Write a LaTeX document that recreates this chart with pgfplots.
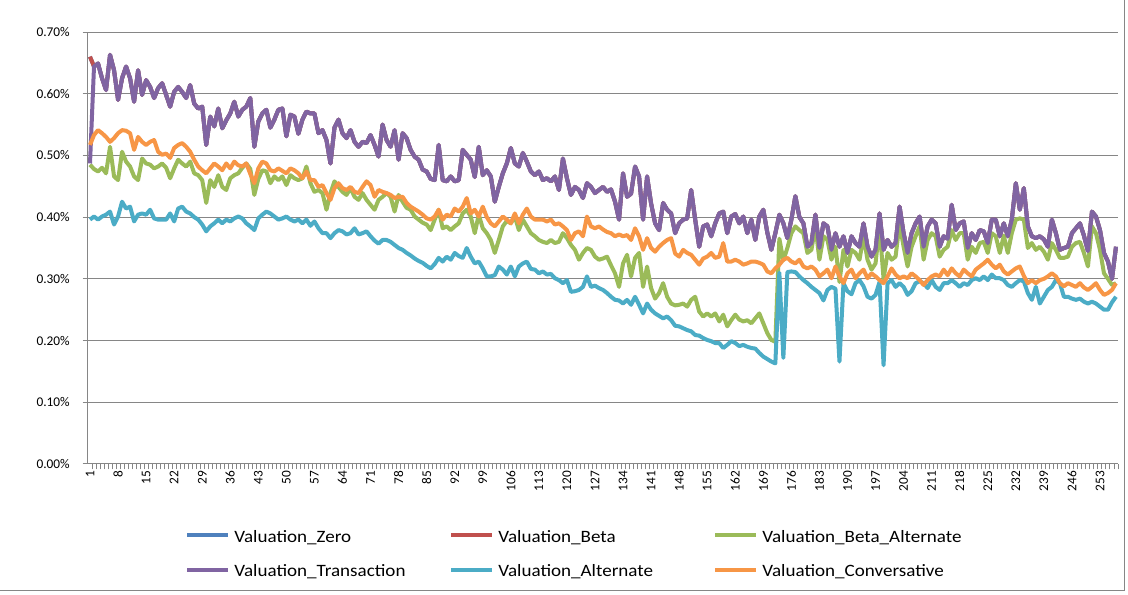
\documentclass[border=0pt]{standalone}
\usepackage{fontspec}
\setmainfont{Carlito}
\newfontfamily\legfont{Carlito}[FakeStretch=1.1]
\usepackage{pgfplots}
\usepackage{pgfplotstable}
\pgfplotsset{compat=1.18}
\definecolor{cZero}{HTML}{4F81BD}
\definecolor{cBeta}{HTML}{C0504D}
\definecolor{cBAlt}{HTML}{9BBB59}
\definecolor{cTrans}{HTML}{8064A2}
\definecolor{cAlt}{HTML}{4BACC6}
\definecolor{cCons}{HTML}{F79646}
\definecolor{axgray}{HTML}{868686}

\pgfplotstableread{
i beta balt trans alt cons
1 0.660 0.485 0.487 0.396 0.517
2 0.644 0.478 0.644 0.401 0.533
3 0.649 0.474 0.649 0.396 0.541
4 0.625 0.480 0.625 0.401 0.536
5 0.606 0.471 0.606 0.404 0.530
6 0.663 0.514 0.663 0.409 0.522
7 0.638 0.466 0.638 0.388 0.528
8 0.590 0.460 0.590 0.401 0.536
9 0.625 0.506 0.625 0.425 0.541
10 0.644 0.490 0.644 0.414 0.540
11 0.625 0.482 0.625 0.417 0.536
12 0.587 0.466 0.587 0.393 0.509
13 0.638 0.460 0.638 0.404 0.530
14 0.598 0.495 0.598 0.406 0.522
15 0.622 0.487 0.622 0.404 0.517
16 0.611 0.485 0.611 0.412 0.522
17 0.593 0.479 0.593 0.398 0.525
18 0.609 0.482 0.609 0.396 0.506
19 0.617 0.487 0.617 0.396 0.501
20 0.598 0.480 0.598 0.396 0.503
21 0.579 0.463 0.579 0.406 0.496
22 0.603 0.479 0.603 0.393 0.512
23 0.611 0.493 0.611 0.414 0.517
24 0.603 0.487 0.603 0.417 0.520
25 0.593 0.482 0.593 0.409 0.514
26 0.614 0.490 0.614 0.406 0.506
27 0.584 0.471 0.584 0.400 0.493
28 0.576 0.468 0.576 0.396 0.482
29 0.579 0.460 0.579 0.388 0.476
30 0.517 0.423 0.517 0.377 0.471
31 0.563 0.460 0.563 0.385 0.479
32 0.547 0.449 0.547 0.390 0.487
33 0.576 0.468 0.576 0.396 0.482
34 0.544 0.449 0.544 0.390 0.476
35 0.557 0.444 0.557 0.396 0.487
36 0.568 0.463 0.568 0.393 0.479
37 0.587 0.468 0.587 0.398 0.490
38 0.563 0.471 0.563 0.401 0.484
39 0.574 0.480 0.574 0.398 0.482
40 0.579 0.487 0.579 0.390 0.487
41 0.593 0.478 0.593 0.385 0.470
42 0.514 0.436 0.514 0.379 0.455
43 0.555 0.462 0.555 0.398 0.479
44 0.568 0.476 0.568 0.404 0.490
45 0.574 0.474 0.574 0.409 0.487
46 0.545 0.455 0.545 0.406 0.476
47 0.558 0.466 0.558 0.401 0.474
48 0.574 0.460 0.574 0.396 0.479
49 0.576 0.466 0.576 0.398 0.475
50 0.531 0.452 0.531 0.401 0.471
51 0.566 0.468 0.566 0.396 0.479
52 0.563 0.463 0.563 0.393 0.476
53 0.535 0.460 0.535 0.396 0.471
54 0.558 0.463 0.558 0.390 0.463
55 0.571 0.482 0.571 0.396 0.474
56 0.568 0.455 0.568 0.386 0.460
57 0.568 0.441 0.568 0.393 0.460
58 0.536 0.444 0.536 0.382 0.449
59 0.541 0.439 0.541 0.374 0.452
60 0.525 0.412 0.525 0.374 0.439
61 0.487 0.439 0.487 0.366 0.428
62 0.545 0.458 0.545 0.374 0.447
63 0.558 0.449 0.558 0.379 0.455
64 0.536 0.441 0.536 0.377 0.447
65 0.528 0.436 0.528 0.372 0.444
66 0.541 0.447 0.541 0.374 0.449
67 0.522 0.433 0.522 0.382 0.441
68 0.514 0.428 0.514 0.372 0.439
69 0.522 0.439 0.522 0.374 0.449
70 0.520 0.428 0.520 0.377 0.458
71 0.533 0.420 0.533 0.369 0.452
72 0.517 0.412 0.517 0.362 0.433
73 0.498 0.428 0.498 0.357 0.444
74 0.550 0.433 0.550 0.363 0.441
75 0.525 0.439 0.525 0.363 0.439
76 0.514 0.433 0.514 0.360 0.436
77 0.541 0.409 0.541 0.355 0.431
78 0.493 0.436 0.493 0.350 0.433
79 0.536 0.425 0.536 0.347 0.433
80 0.528 0.415 0.528 0.342 0.423
81 0.509 0.412 0.509 0.338 0.417
82 0.498 0.401 0.498 0.333 0.413
83 0.493 0.396 0.493 0.329 0.409
84 0.477 0.391 0.477 0.326 0.404
85 0.474 0.388 0.474 0.321 0.398
86 0.462 0.379 0.462 0.317 0.396
87 0.460 0.396 0.460 0.324 0.401
88 0.517 0.412 0.517 0.334 0.412
89 0.460 0.382 0.460 0.328 0.396
90 0.458 0.385 0.458 0.336 0.404
91 0.466 0.379 0.466 0.331 0.401
92 0.458 0.385 0.458 0.342 0.414
93 0.460 0.390 0.460 0.337 0.409
94 0.509 0.406 0.509 0.334 0.417
95 0.501 0.412 0.501 0.350 0.431
96 0.493 0.401 0.493 0.336 0.406
97 0.465 0.374 0.465 0.325 0.412
98 0.514 0.404 0.514 0.328 0.401
99 0.468 0.382 0.468 0.317 0.417
100 0.476 0.374 0.476 0.304 0.400
101 0.466 0.363 0.466 0.304 0.390
102 0.425 0.342 0.425 0.306 0.385
103 0.449 0.363 0.449 0.320 0.393
104 0.471 0.385 0.471 0.315 0.401
105 0.487 0.394 0.487 0.307 0.396
106 0.512 0.390 0.512 0.320 0.390
107 0.487 0.401 0.487 0.304 0.406
108 0.482 0.379 0.482 0.320 0.390
109 0.504 0.396 0.504 0.325 0.404
110 0.490 0.385 0.490 0.328 0.414
111 0.474 0.374 0.474 0.316 0.401
112 0.468 0.369 0.468 0.315 0.396
113 0.474 0.363 0.474 0.309 0.396
114 0.460 0.360 0.460 0.312 0.396
115 0.463 0.358 0.463 0.307 0.393
116 0.458 0.363 0.458 0.308 0.396
117 0.466 0.358 0.466 0.301 0.388
118 0.444 0.360 0.444 0.298 0.390
119 0.495 0.374 0.495 0.293 0.385
120 0.463 0.366 0.463 0.298 0.379
121 0.436 0.355 0.436 0.279 0.363
122 0.449 0.347 0.449 0.280 0.374
123 0.444 0.331 0.444 0.282 0.377
124 0.431 0.342 0.431 0.287 0.369
125 0.455 0.350 0.455 0.304 0.401
126 0.449 0.347 0.449 0.287 0.385
127 0.439 0.336 0.439 0.289 0.382
128 0.444 0.331 0.444 0.285 0.385
129 0.449 0.333 0.449 0.282 0.380
130 0.441 0.336 0.441 0.277 0.376
131 0.445 0.322 0.445 0.271 0.374
132 0.425 0.309 0.425 0.266 0.369
133 0.396 0.287 0.396 0.265 0.372
134 0.471 0.325 0.471 0.260 0.369
135 0.433 0.339 0.433 0.266 0.371
136 0.438 0.304 0.438 0.258 0.363
137 0.482 0.334 0.482 0.271 0.382
138 0.466 0.342 0.466 0.258 0.369
139 0.396 0.287 0.396 0.244 0.347
140 0.466 0.320 0.466 0.260 0.366
141 0.422 0.285 0.422 0.250 0.350
142 0.390 0.268 0.390 0.244 0.344
143 0.379 0.277 0.379 0.240 0.352
144 0.423 0.293 0.423 0.236 0.358
145 0.412 0.271 0.412 0.239 0.363
146 0.406 0.260 0.406 0.233 0.366
147 0.374 0.257 0.374 0.224 0.341
148 0.390 0.258 0.390 0.223 0.336
149 0.396 0.260 0.396 0.220 0.347
150 0.398 0.255 0.398 0.217 0.342
151 0.444 0.266 0.444 0.215 0.339
152 0.396 0.271 0.396 0.209 0.331
153 0.352 0.247 0.352 0.208 0.323
154 0.385 0.239 0.385 0.204 0.333
155 0.388 0.244 0.388 0.201 0.336
156 0.369 0.239 0.369 0.199 0.342
157 0.390 0.244 0.390 0.196 0.334
158 0.406 0.231 0.406 0.196 0.336
159 0.409 0.242 0.409 0.188 0.358
160 0.374 0.223 0.374 0.193 0.328
161 0.401 0.233 0.401 0.199 0.328
162 0.405 0.242 0.405 0.196 0.331
163 0.390 0.234 0.390 0.191 0.328
164 0.401 0.231 0.401 0.193 0.323
165 0.374 0.233 0.374 0.190 0.325
166 0.396 0.228 0.396 0.188 0.328
167 0.363 0.236 0.363 0.187 0.328
168 0.401 0.244 0.401 0.180 0.326
169 0.412 0.228 0.412 0.174 0.323
170 0.375 0.212 0.375 0.170 0.312
171 0.347 0.201 0.347 0.166 0.309
172 0.374 0.198 0.374 0.163 0.317
173 0.404 0.365 0.404 0.310 0.323
174 0.390 0.330 0.390 0.172 0.331
175 0.366 0.350 0.366 0.311 0.334
176 0.396 0.374 0.396 0.312 0.328
177 0.434 0.385 0.434 0.311 0.325
178 0.400 0.379 0.400 0.304 0.331
179 0.390 0.374 0.390 0.298 0.320
180 0.352 0.342 0.352 0.293 0.317
181 0.358 0.347 0.358 0.287 0.320
182 0.404 0.385 0.404 0.282 0.315
183 0.350 0.331 0.350 0.277 0.304
184 0.390 0.369 0.390 0.265 0.309
185 0.385 0.363 0.385 0.282 0.315
186 0.347 0.331 0.347 0.287 0.301
187 0.374 0.352 0.374 0.284 0.320
188 0.352 0.295 0.352 0.166 0.304
189 0.369 0.347 0.369 0.293 0.293
190 0.342 0.320 0.342 0.280 0.309
191 0.369 0.347 0.369 0.275 0.315
192 0.358 0.342 0.358 0.293 0.301
193 0.352 0.331 0.352 0.298 0.309
194 0.390 0.369 0.390 0.288 0.315
195 0.352 0.331 0.352 0.271 0.301
196 0.336 0.315 0.336 0.268 0.309
197 0.347 0.325 0.347 0.274 0.304
198 0.406 0.385 0.406 0.295 0.298
199 0.347 0.300 0.347 0.160 0.293
200 0.363 0.342 0.363 0.293 0.304
201 0.352 0.331 0.352 0.298 0.317
202 0.358 0.336 0.358 0.287 0.307
203 0.417 0.390 0.417 0.293 0.301
204 0.374 0.352 0.374 0.287 0.304
205 0.342 0.320 0.342 0.274 0.301
206 0.374 0.352 0.374 0.280 0.309
207 0.390 0.369 0.390 0.293 0.304
208 0.401 0.385 0.401 0.296 0.298
209 0.352 0.331 0.352 0.293 0.290
210 0.385 0.363 0.385 0.285 0.298
211 0.396 0.374 0.396 0.298 0.304
212 0.390 0.369 0.390 0.287 0.307
213 0.352 0.336 0.352 0.282 0.304
214 0.369 0.347 0.369 0.293 0.315
215 0.365 0.352 0.365 0.293 0.306
216 0.420 0.379 0.420 0.298 0.317
217 0.379 0.363 0.379 0.293 0.309
218 0.390 0.374 0.390 0.287 0.304
219 0.393 0.374 0.393 0.293 0.315
220 0.350 0.331 0.350 0.290 0.309
221 0.374 0.352 0.374 0.298 0.304
222 0.363 0.342 0.363 0.301 0.315
223 0.379 0.358 0.379 0.298 0.320
224 0.377 0.360 0.377 0.304 0.325
225 0.358 0.342 0.358 0.298 0.331
226 0.396 0.374 0.396 0.307 0.323
227 0.396 0.369 0.396 0.301 0.317
228 0.369 0.342 0.369 0.301 0.323
229 0.390 0.370 0.390 0.298 0.312
230 0.369 0.342 0.369 0.290 0.307
231 0.396 0.374 0.396 0.287 0.312
232 0.455 0.396 0.455 0.293 0.317
233 0.412 0.398 0.412 0.298 0.320
234 0.447 0.396 0.447 0.296 0.305
235 0.385 0.350 0.385 0.277 0.293
236 0.369 0.358 0.369 0.266 0.298
237 0.366 0.347 0.366 0.287 0.293
238 0.369 0.352 0.369 0.260 0.298
239 0.364 0.344 0.364 0.271 0.300
240 0.352 0.331 0.352 0.282 0.304
241 0.396 0.358 0.396 0.287 0.309
242 0.374 0.347 0.374 0.298 0.304
243 0.347 0.334 0.347 0.293 0.293
244 0.350 0.334 0.350 0.271 0.288
245 0.352 0.336 0.352 0.271 0.293
246 0.374 0.352 0.374 0.268 0.290
247 0.382 0.358 0.382 0.266 0.287
248 0.390 0.360 0.390 0.268 0.293
249 0.370 0.342 0.370 0.263 0.286
250 0.345 0.320 0.345 0.260 0.282
251 0.409 0.385 0.409 0.263 0.287
252 0.401 0.374 0.401 0.260 0.293
253 0.379 0.347 0.379 0.255 0.282
254 0.342 0.309 0.342 0.250 0.274
255 0.328 0.300 0.328 0.250 0.277
256 0.300 0.290 0.300 0.262 0.282
257 0.352 0.293 0.352 0.271 0.293
}\data

\begin{document}
\begin{tikzpicture}
\path[use as bounding box] (-66pt,-98.25pt) rectangle (780pt,348pt);
\draw[axgray, line width=0.75pt] (777pt,348pt) -- (777pt,-95pt) -- (-66pt,-95pt);
\begin{axis}[
  scale only axis, width=772.5pt, height=324pt,
  at={(0pt,0pt)}, anchor=south west,
  xmin=0.5, xmax=257.5, ymin=0, ymax=0.7,
  axis x line*=bottom, axis y line*=left,
  axis line style={draw=axgray, line width=0.75pt},
  xtick={1,8,...,253},
  minor xtick={1.5,2.5,...,257.5},
  ytick={0,0.1,0.2,0.3,0.4,0.5,0.6,0.7},
  minor ytick={0,0.1,0.2,0.3,0.4,0.5,0.6,0.7},
  major tick length=0pt, minor tick length=4pt, tick align=outside,
  minor tick style={draw=axgray, line width=0.75pt},
  ymajorgrids, grid style={draw=axgray, line width=0.75pt},
  /pgf/number format/assume math mode=true,
  yticklabel={\pgfmathprintnumber[fixed,fixed zerofill,precision=2]{\tick}\%},
  yticklabel style={font=\fontsize{10}{12}\selectfont, inner sep=0pt, anchor=east, xshift=-13.5pt},
  xticklabel style={font=\fontsize{10}{12}\selectfont, rotate=90, anchor=east, inner sep=0pt},
  xticklabel shift=5pt,
  legend columns=3,
  legend style={at={(0.0942,-0.1435)}, anchor=north west, draw=none, fill=none,
    inner sep=0pt, row sep=12.5pt,
    font=\legfont\fontsize{13}{15}\selectfont,
    nodes={inner sep=0pt},
    /tikz/every odd column/.style={column sep=3pt}},
  legend cell align=left,
  legend image code/.code={\draw[#1, line width=3pt] (0pt,0pt) -- (30.75pt,0pt);},
  every axis plot/.append style={line width=3pt, line join=round},
]
\addplot[color=cZero] table[x=i, y=beta] {\data};
\addlegendentry{\makebox[161.25pt][l]{\rule[-4pt]{0pt}{16pt}Valuation\_Zero}}
\addplot[color=cBeta] table[x=i, y=beta] {\data};
\addlegendentry{\makebox[161.25pt][l]{\rule[-4pt]{0pt}{16pt}Valuation\_Beta}}
\addplot[color=cBAlt] table[x=i, y=balt] {\data};
\addlegendentry{\makebox[161.25pt][l]{\rule[-4pt]{0pt}{16pt}Valuation\_Beta\_Alternate}}
\addplot[color=cTrans] table[x=i, y=trans] {\data};
\addlegendentry{\makebox[161.25pt][l]{\rule[-4pt]{0pt}{16pt}Valuation\_Transaction}}
\addplot[color=cAlt] table[x=i, y=alt] {\data};
\addlegendentry{\makebox[161.25pt][l]{\rule[-4pt]{0pt}{16pt}Valuation\_Alternate}}
\addplot[color=cCons] table[x=i, y=cons] {\data};
\addlegendentry{\makebox[161.25pt][l]{\rule[-4pt]{0pt}{16pt}Valuation\_Conversative}}
\end{axis}
\end{tikzpicture}
\end{document}
